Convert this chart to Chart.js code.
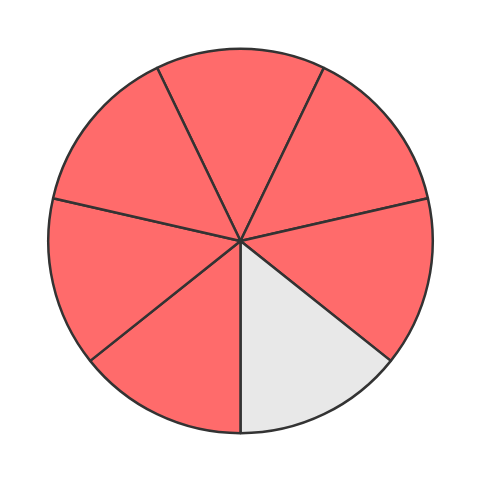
<!DOCTYPE html>
<html>
<head>
<meta charset="utf-8">
<script src="https://cdn.jsdelivr.net/npm/chart.js@4"></script>
<style>
  html, body { margin: 0; padding: 0; background: #ffffff; }
  #wrap { width: 481px; height: 482px; }
</style>
</head>
<body>
<div id="wrap"><canvas id="pie"></canvas></div>
<script>
// 7 equal parts, one of them left unshaded
var parts = ['1', '2', '3', '4', '5', '6', '7'];
var sizes = [1, 1, 1, 1, 1, 1, 1];
var shaded = [true, true, true, false, true, true, true];

var fillOn = '#FF6B6B';
var fillOff = '#E8E8E8';

var ctx = document.getElementById('pie');
new Chart(ctx, {
    type: 'pie',
    data: {
        labels: parts,
        datasets: [{
            data: sizes,
            backgroundColor: shaded.map(function (s) { return s ? fillOn : fillOff; }),
            borderColor: '#333333',
            borderWidth: 2.5
        }]
    },
    options: {
        responsive: true,
        maintainAspectRatio: false,
        animation: false,
        rotation: -360 / 14,
        layout: { padding: 47 },
        plugins: {
            legend: { display: false },
            tooltip: { enabled: false }
        }
    }
});
</script>
</body>
</html>
